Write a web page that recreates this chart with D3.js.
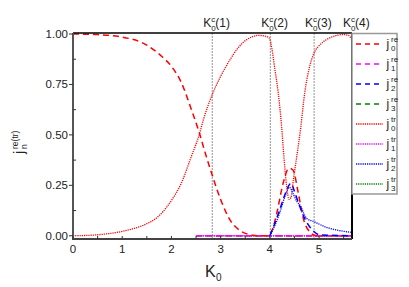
<!DOCTYPE html>
<html>
<head>
<meta charset="utf-8">
<script src="https://d3js.org/d3.v7.min.js"></script>
<style>
  body { margin: 0; background: #fff; }
  text { font-family: "Liberation Sans", Arial, sans-serif; fill: #222; }
</style>
</head>
<body>
<div id="chart-area"></div>
<script>
// values
const k0re = [0, 0.5, 1, 1.5, 1.8, 2, 2.2, 2.4, 2.57, 2.7, 2.83, 3, 3.2, 3.4, 3.6, 3.8, 3.95, 4.05, 4.14, 4.27, 4.39, 4.47, 4.58, 4.68, 4.81, 4.95, 5.2, 5.67];
const j0re = [1.0, 0.997, 0.985, 0.945, 0.89, 0.84, 0.76, 0.63, 0.508, 0.40, 0.30, 0.18, 0.075, 0.025, 0.005, 0.0, 0.0, 0.03, 0.11, 0.26, 0.335, 0.326, 0.21, 0.086, 0.02, 0.0, 0.0, 0.0];

const k0tr = [0, 0.5, 1, 1.5, 1.67, 2, 2.2, 2.4, 2.57, 2.65, 2.83, 3, 3.19, 3.35, 3.53, 3.65, 3.76, 3.9, 3.99, 4.04, 4.1, 4.17, 4.24, 4.29, 4.34, 4.39, 4.43, 4.48, 4.54, 4.63, 4.71, 4.8, 4.9, 5.02, 5.15, 5.29, 5.49, 5.6, 5.67];
const j0tr = [0.0, 0.005, 0.022, 0.06, 0.083, 0.175, 0.26, 0.39, 0.505, 0.575, 0.70, 0.79, 0.872, 0.93, 0.972, 0.987, 0.993, 0.99, 0.98, 0.93, 0.83, 0.71, 0.54, 0.38, 0.25, 0.18, 0.19, 0.28, 0.38, 0.54, 0.71, 0.83, 0.906, 0.947, 0.972, 0.988, 0.997, 0.993, 0.97];

const k2re = [4.0, 4.1, 4.2, 4.3, 4.43, 4.5, 4.61, 4.7, 4.81, 4.9, 5.0, 5.67];
const j2re = [0.0, 0.06, 0.128, 0.2, 0.26, 0.22, 0.144, 0.09, 0.045, 0.02, 0.005, 0.0];

const k2tr = [4.0, 4.1, 4.2, 4.3, 4.4, 4.47, 4.55, 4.61, 4.75, 4.9, 5.0, 5.15, 5.3, 5.56, 5.67];
const j2tr = [0.0, 0.05, 0.113, 0.19, 0.24, 0.21, 0.17, 0.152, 0.086, 0.07, 0.058, 0.042, 0.032, 0.02, 0.017];

const kZero = [2.5, 5.67];
const jZero = [0, 0];

const criticalK = [2.83, 4.01, 4.9, 5.67];
const yTicks = [0, 0.25, 0.5, 0.75, 1.0];
const xTicks = [0, 1, 2, 3, 4, 5];

const series = [
  {n: '0', kind: 're', k: k0re, v: j0re, color: '#ff0000', z: 2},
  {n: '1', kind: 're', k: kZero, v: jZero, color: '#ff00ff', z: 1},
  {n: '2', kind: 're', k: k2re, v: j2re, color: '#0000ff', z: 2},
  {n: '3', kind: 're', k: kZero, v: jZero, color: '#008000', z: 0},
  {n: '0', kind: 'tr', k: k0tr, v: j0tr, color: '#ff0000', z: 2},
  {n: '1', kind: 'tr', k: kZero, v: jZero, color: '#ff00ff', z: 1},
  {n: '2', kind: 'tr', k: k2tr, v: j2tr, color: '#0000ff', z: 2},
  {n: '3', kind: 'tr', k: kZero, v: jZero, color: '#008000', z: 0}
];

const width = 409, height = 287;
const plotL = 73, plotR = 352, plotT = 33, plotB = 239;

const svg = d3.select('#chart-area').append('svg')
  .attr('width', width)
  .attr('height', height);

const x = d3.scaleLinear().domain([0, 5.67]).range([plotL, plotR]);
const y = d3.scaleLinear().domain([-0.016, 1.005]).range([plotB, plotT]);

// critical K lines
svg.selectAll('.crit')
  .data(criticalK.slice(0, 3))
  .enter().append('line')
  .attr('x1', d => x(d)).attr('x2', d => x(d))
  .attr('y1', plotT).attr('y2', plotB)
  .attr('stroke', '#888')
  .attr('stroke-width', 0.9)
  .attr('stroke-dasharray', '2,1');

// curves
const line = d3.line()
  .x(d => x(d[0]))
  .y(d => y(d[1]))
  .curve(d3.curveMonotoneX);

const dash = {re: '6,4', tr: '1.2,1'};

// zero lines underneath, magenta on top of green
series.slice().sort((a, b) => a.z - b.z).forEach(s => {
  svg.append('path')
    .datum(s.k.map((k, i) => [k, s.v[i]]))
    .attr('d', line)
    .attr('fill', 'none')
    .attr('stroke', s.color)
    .attr('stroke-width', s.kind === 're' ? 1.5 : 1.3)
    .attr('stroke-dasharray', dash[s.kind]);
});

// frame
svg.append('line').attr('x1', plotL).attr('x2', plotR).attr('y1', plotT).attr('y2', plotT)
  .attr('stroke', '#000').attr('stroke-width', 1.5);
svg.append('line').attr('x1', plotR).attr('x2', plotR).attr('y1', plotT).attr('y2', plotB)
  .attr('stroke', '#000').attr('stroke-width', 2);

// y axis
const yAxis = svg.append('g');
yAxis.append('line').attr('x1', plotL).attr('x2', plotL).attr('y1', plotT).attr('y2', plotB + 1)
  .attr('stroke', '#555').attr('stroke-width', 2);
yAxis.selectAll('.ymaj').data(yTicks).enter().append('line')
  .attr('x1', plotL - 4).attr('x2', plotL)
  .attr('y1', d => y(d)).attr('y2', d => y(d))
  .attr('stroke', '#333').attr('stroke-width', 1);
yAxis.selectAll('.ymin').data(yTicks.slice(0, -1).map(d => d + 0.125)).enter().append('line')
  .attr('x1', plotL).attr('x2', plotL + 3)
  .attr('y1', d => y(d)).attr('y2', d => y(d))
  .attr('stroke', '#333').attr('stroke-width', 1);
yAxis.selectAll('.ylab').data(yTicks).enter().append('text')
  .attr('x', plotL - 5)
  .attr('y', d => y(d) + 4)
  .attr('text-anchor', 'end')
  .attr('font-size', 11.5)
  .text(d => d3.format('.2f')(d));

// x axis
const xAxis = svg.append('g');
xAxis.append('line').attr('x1', plotL - 1).attr('x2', plotR).attr('y1', plotB).attr('y2', plotB)
  .attr('stroke', '#444').attr('stroke-width', 2);
xAxis.selectAll('.xmaj').data(xTicks).enter().append('line')
  .attr('x1', d => x(d)).attr('x2', d => x(d))
  .attr('y1', plotB - 3).attr('y2', plotB)
  .attr('stroke', '#333').attr('stroke-width', 1);
xAxis.selectAll('.xmin').data(xTicks.map(d => d + 0.5)).enter().append('line')
  .attr('x1', d => x(d)).attr('x2', d => x(d))
  .attr('y1', plotB - 3).attr('y2', plotB)
  .attr('stroke', '#333').attr('stroke-width', 1);
xAxis.selectAll('.xlab').data(xTicks).enter().append('text')
  .attr('x', d => x(d))
  .attr('y', 253)
  .attr('text-anchor', 'middle')
  .attr('font-size', 11.5)
  .text(d => d);

// axis titles
svg.append('text').attr('x', 205).attr('y', 277).attr('font-size', 16).text('K');
svg.append('text').attr('x', 216).attr('y', 281).attr('font-size', 10).text('0');

const yTitle = svg.append('g').attr('transform', 'translate(24,154) rotate(-90)');
yTitle.append('text').attr('x', 0).attr('y', 0).attr('font-size', 14).text('j');
yTitle.append('text').attr('x', 5).attr('y', -6).attr('font-size', 8.5).text('re(tr)');
yTitle.append('text').attr('x', 5).attr('y', 3).attr('font-size', 8.5).text('n');

// critical K labels
criticalK.forEach((k, i) => {
  const cx = x(k);
  const g = svg.append('g');
  g.append('text').attr('x', cx - 9).attr('y', 27).attr('font-size', 12).text('K');
  g.append('text').attr('x', cx - 1).attr('y', 22).attr('font-size', 8).text('c');
  g.append('text').attr('x', cx - 1).attr('y', 31).attr('font-size', 8).text('0');
  g.append('text').attr('x', cx + 3).attr('y', 27).attr('font-size', 12).text('(' + (i + 1) + ')');
});

// legend
svg.append('rect')
  .attr('x', plotR).attr('y', 33.5)
  .attr('width', 45).attr('height', 160.5)
  .attr('fill', '#fff')
  .attr('stroke', '#999')
  .attr('stroke-width', 1.5);

const legend = svg.selectAll('.leg')
  .data(series)
  .enter().append('g')
  .attr('transform', (d, i) => `translate(0,${44 + i * 20})`);

legend.append('line')
  .attr('x1', 356)
  .attr('x2', d => d.kind === 're' ? 380 : 383)
  .attr('y1', 0).attr('y2', 0)
  .attr('stroke', d => d.color)
  .attr('stroke-width', d => d.kind === 're' ? 1.5 : 1.3)
  .attr('stroke-dasharray', d => d.kind === 're' ? '5,4' : dash.tr);

legend.append('text').attr('x', 386.5).attr('y', 4).attr('font-size', 12).text('j');
legend.append('text').attr('x', 391).attr('y', -2).attr('font-size', 8).text(d => d.kind);
legend.append('text').attr('x', 391).attr('y', 7).attr('font-size', 8).text(d => d.n);
</script>
</body>
</html>
